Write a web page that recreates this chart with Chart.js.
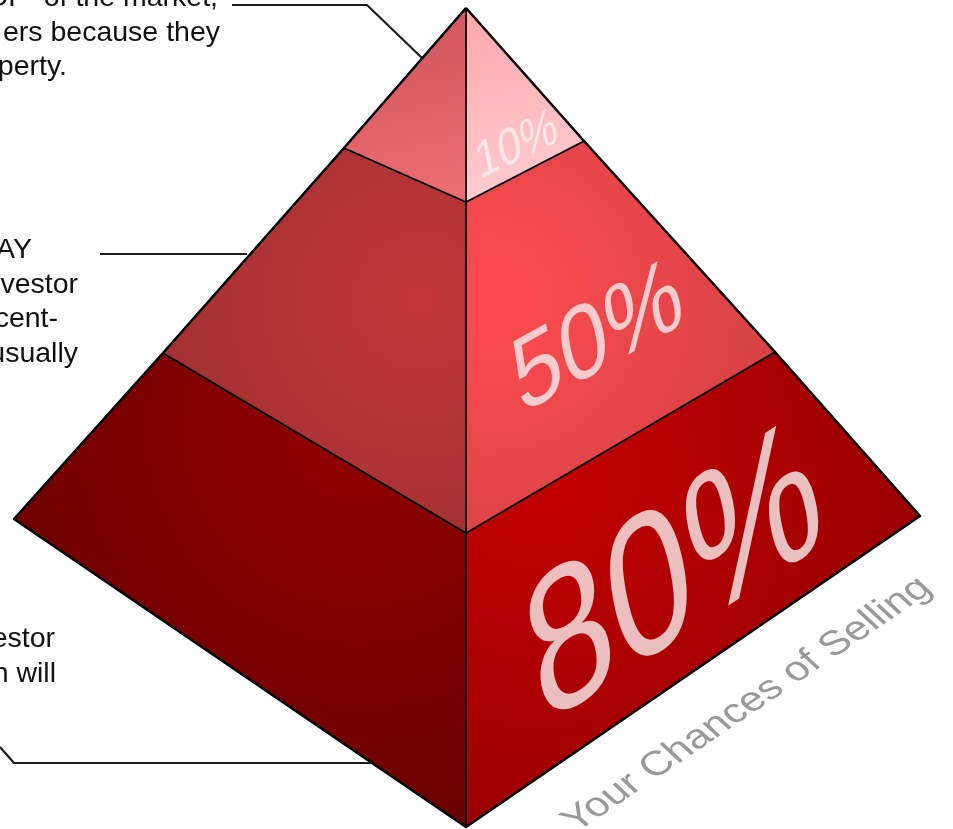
<!DOCTYPE html>
<html lang="en">
<head>
    <meta charset="UTF-8">
    <title>Your Chances of Selling</title>
    <script src="https://cdn.jsdelivr.net/npm/chart.js"></script>
    <style>
        body { margin: 0; background-color: #ffffff; }
        canvas { display: block; }
    </style>
</head>
<body>
    <canvas id="pyramidChart" width="953" height="829"></canvas>

    <script>
        const chances = [10, 50, 80];
        const axisTitle = 'Your Chances of Selling';

        // corners of the pyramid, top to bottom, one entry per tier boundary
        const spineX = [466, 466, 466, 466];
        const spineY = [8, 202, 533, 827];
        const leftEdgeX = [466, 344, 163, 14];
        const leftEdgeY = [8, 148, 353, 519];
        const rightEdgeX = [466, 584, 775, 920];
        const rightEdgeY = [8, 141, 352, 516];

        // leader lines
        const topLeaderX = [232, 367, 422];
        const topLeaderY = [5, 5, 58];
        const midLeaderX = [100, 247];
        const midLeaderY = [254, 254];
        const lowLeaderX = [0, 14, 372];
        const lowLeaderY = [747, 763, 763];

        // callout text, clipped by the left side of the page
        const topCallout = ['OF" of the market,', 'ers because they', 'perty.'];
        const midCallout = ['AY', 'vestor', 'cent-', 'usually'];
        const lowCallout = ['estor', 'n will'];

        function points(xs, ys) {
            return xs.map((x, i) => ({ x: x, y: ys[i] }));
        }

        // quad between tier i and i + 1 on one face
        function face(edgeX, edgeY, i) {
            const xs = [spineX[i], edgeX[i], edgeX[i + 1], spineX[i + 1], spineX[i]];
            const ys = [spineY[i], edgeY[i], edgeY[i + 1], spineY[i + 1], spineY[i]];
            return points(xs, ys);
        }

        // silhouette: down the left edge, across the bottom tip, up the right edge
        function outline() {
            const last = spineX.length - 1;
            const xs = leftEdgeX.concat(spineX[last], rightEdgeX.slice().reverse());
            const ys = leftEdgeY.concat(spineY[last], rightEdgeY.slice().reverse());
            return points(xs, ys);
        }

        function linear(x0, y0, x1, y1, c0, c1) {
            return (context) => {
                const { chart } = context;
                if (!chart.chartArea) return c0;
                const g = chart.ctx.createLinearGradient(
                    chart.scales.x.getPixelForValue(x0), chart.scales.y.getPixelForValue(y0),
                    chart.scales.x.getPixelForValue(x1), chart.scales.y.getPixelForValue(y1));
                g.addColorStop(0, c0);
                g.addColorStop(1, c1);
                return g;
            };
        }

        function radial(x, y, r, c0, c1) {
            return (context) => {
                const { chart } = context;
                if (!chart.chartArea) return c0;
                const px = chart.scales.x.getPixelForValue(x);
                const py = chart.scales.y.getPixelForValue(y);
                const g = chart.ctx.createRadialGradient(px, py, 0, px, py, r);
                g.addColorStop(0, c0);
                g.addColorStop(1, c1);
                return g;
            };
        }

        function faceDataset(data, fill) {
            return {
                data: data,
                showLine: true,
                fill: 'shape',
                backgroundColor: fill,
                borderColor: '#000000',
                borderWidth: 1.5,
                borderJoinStyle: 'round',
                pointRadius: 0,
                tension: 0
            };
        }

        function lineDataset(data, color, width) {
            return {
                data: data,
                showLine: true,
                fill: false,
                borderColor: color,
                borderWidth: width,
                borderJoinStyle: 'round',
                pointRadius: 0,
                tension: 0
            };
        }

        // draws the callouts and the slanted labels on top of the faces
        const labelPlugin = {
            id: 'pyramidLabels',
            afterDatasetsDraw(chart) {
                const { ctx, scales } = chart;
                const sx = (v) => scales.x.getPixelForValue(v);
                const sy = (v) => scales.y.getPixelForValue(v);

                ctx.save();
                ctx.font = '28.5px "Liberation Sans", Arial, sans-serif';
                ctx.fillStyle = '#111111';
                ctx.textAlign = 'right';
                ctx.textBaseline = 'alphabetic';
                [218, 220, 67].forEach((x, i) => ctx.fillText(topCallout[i], sx(x), sy(6 + i * 34.7)));
                [32, 78, 58, 78].forEach((x, i) => ctx.fillText(midCallout[i], sx(x), sy(258 + i * 34.7)));
                [55, 56].forEach((x, i) => ctx.fillText(lowCallout[i], sx(x), sy(647 + i * 35)));
                ctx.restore();

                const slanted = (text, x, y, size, a, b, c, d, color) => {
                    ctx.save();
                    ctx.setTransform(a, b, c, d, sx(x), sy(y));
                    ctx.font = size + 'px "Liberation Sans", Arial, sans-serif';
                    ctx.fillStyle = color;
                    ctx.textAlign = 'left';
                    ctx.textBaseline = 'alphabetic';
                    ctx.fillText(text, 0, 0);
                    ctx.restore();
                };

                slanted(chances[0] + '%', 479.5, 179, 50, 0.8, -0.38, 0.2, 1, 'rgba(255,255,255,0.6)');
                slanted(chances[1] + '%', 521, 414, 100, 0.83, -0.46, 0.21, 1, 'rgba(255,255,255,0.72)');
                slanted(chances[2] + '%', 543, 726, 190, 0.753, -0.49, 0.21, 1, 'rgba(255,255,255,0.75)');
                slanted(axisTitle, 576, 833, 38, 0.885, -0.6, 0.73, 0.68, '#999999');
            }
        };

        new Chart(document.getElementById('pyramidChart'), {
            type: 'scatter',
            data: {
                datasets: [
                    lineDataset(outline(), '#000000', 2.5),
                    faceDataset(face(leftEdgeX, leftEdgeY, 0), linear(400, 60, 430, 190, '#d65a61', '#ec6c70')),
                    faceDataset(face(rightEdgeX, rightEdgeY, 0), linear(466, 30, 500, 200, '#ffaab0', '#ffccd0')),
                    faceDataset(face(leftEdgeX, leftEdgeY, 1), radial(420, 300, 260, '#c33639', '#a33131')),
                    faceDataset(face(rightEdgeX, rightEdgeY, 1), radial(490, 300, 320, '#ff4c50', '#d24144')),
                    faceDataset(face(leftEdgeX, leftEdgeY, 2), radial(360, 430, 420, '#920000', '#690000')),
                    faceDataset(face(rightEdgeX, rightEdgeY, 2), radial(540, 470, 400, '#c40000', '#980000')),
                    lineDataset(points(topLeaderX, topLeaderY), '#1c1c1c', 2.2),
                    lineDataset(points(midLeaderX, midLeaderY), '#1c1c1c', 2.2),
                    lineDataset(points(lowLeaderX, lowLeaderY), '#1c1c1c', 2.2)
                ]
            },
            options: {
                responsive: false,
                animation: false,
                layout: { padding: 0 },
                scales: {
                    x: { type: 'linear', display: false, min: 0, max: 953 },
                    y: { type: 'linear', display: false, min: 0, max: 829, reverse: true }
                },
                plugins: {
                    legend: { display: false },
                    tooltip: { enabled: false }
                }
            },
            plugins: [labelPlugin]
        });
    </script>
</body>
</html>
